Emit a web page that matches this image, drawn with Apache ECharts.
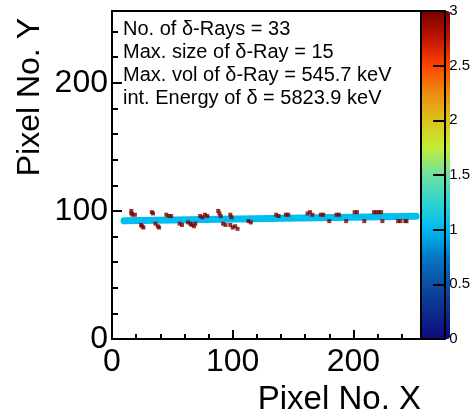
<!DOCTYPE html>
<html>
<head>
<meta charset="utf-8">
<script src="https://cdn.jsdelivr.net/npm/echarts@6/dist/echarts.min.js"></script>
<style>
  html, body { margin: 0; padding: 0; background: #fff; }
  #chart { width: 473px; height: 417px; }
</style>
</head>
<body>
<div id="chart"></div>
<script>
// Pixel hit map of one track: fitted track line plus delta-ray pixels
const FONT = "'Liberation Sans', Arial, sans-serif";

// Track line end points (pixel X, pixel Y)
const trackX = [10, 252];
const trackY = [92.2, 95.8];
const trackColor = '#00bff0';

// Delta-ray pixels
const deltaX = [16, 16, 17, 19, 24, 25, 26, 33, 34, 36, 38, 39, 45, 47, 49, 56, 58, 63, 65,
  66, 68, 69, 73, 75, 77, 79, 88, 89, 90, 92, 94, 98, 99, 98, 100, 102, 104, 113, 115,
  136, 138, 144, 146, 162, 164, 166, 173, 175, 180, 186, 188, 194, 201, 203, 209,
  217, 219, 221, 223, 224, 237, 239, 243, 244];
const deltaY = [100, 98, 97, 97, 89, 88, 87, 99, 98, 90, 88, 87, 97, 96, 96, 90, 89, 91, 90,
  89, 88, 90, 96, 95, 97, 96, 100, 98, 96, 90, 89, 97, 95, 89, 87, 88, 86, 92, 91,
  97, 96, 97, 97, 98, 99, 97, 97, 97, 92, 97, 97, 92, 99, 99, 92,
  99, 99, 99, 99, 92, 92, 92, 92, 92];
const deltaQ = deltaX.map(() => 3);

// Axis ranges and tick steps
const xRange = [0, 256];
const yRange = [0, 256];
const majorStep = 100;
const minorStep = 20;
const zRange = [0, 3];
const zStep = 0.5;

// Statistics box
const infoLines = [
  'No. of \u03b4-Rays = 33',
  'Max. size of \u03b4-Ray = 15',
  'Max. vol of \u03b4-Ray = 545.7 keV',
  'int. Energy of \u03b4 = 5823.9 keV'
];
const xTitle = 'Pixel No. X';
const yTitle = 'Pixel No. Y';

// Rainbow palette for the charge scale
const palette = ['#0b0a7c', '#0c2c8e', '#0b4fa0', '#0478c6', '#00baf0', '#2fd4d0',
  '#6de1a0', '#c4ee38', '#dcc21a', '#ec8c12', '#ff4400', '#c01500', '#780000'];

const chart = echarts.init(document.getElementById('chart'), null, { renderer: 'canvas' });

const deltaData = deltaX.map((x, i) => [x, deltaY[i], deltaQ[i]]);
const trackData = trackX.map((x, i) => [x, trackY[i]]);

const tickLabelStyle = { fontFamily: FONT, fontSize: 32, color: '#000' };

function mainAxis(dim, showLabels, step, tickLen) {
  const range = dim === 'x' ? xRange : yRange;
  return {
    type: 'value', gridIndex: 0, min: range[0], max: range[1], interval: step,
    position: dim === 'x' ? 'bottom' : 'left',
    axisLine: { show: false },
    splitLine: { show: false },
    axisTick: { show: true, inside: true, length: tickLen, lineStyle: { color: '#000', width: 2 } },
    axisLabel: showLabels ? Object.assign({
      show: true, margin: dim === 'x' ? 7 : 4, showMaxLabel: false,
      formatter: v => (v % majorStep === 0 ? String(v) : '')
    }, tickLabelStyle) : { show: false }
  };
}

function barAxis(pos, isY, labels) {
  const a = {
    type: 'value', gridIndex: 1, position: pos, z: 10,
    axisLine: { show: true, onZero: false, lineStyle: { color: '#000', width: 2 } },
    splitLine: { show: false },
    axisTick: { show: false },
    axisLabel: { show: false }
  };
  if (isY) {
    a.min = zRange[0]; a.max = zRange[1]; a.interval = zStep;
  } else {
    a.min = 0; a.max = 1;
  }
  if (labels) {
    a.axisTick = { show: true, inside: true, length: 12, lineStyle: { color: '#000', width: 2 } };
    a.axisLabel = { show: true, margin: 4, fontFamily: FONT, fontSize: 15, color: '#000' };
  }
  return a;
}

const option = {
  animation: false,
  backgroundColor: '#fff',
  grid: [
    { left: 112, top: 11, width: 309, height: 328, show: true, borderColor: '#000', borderWidth: 2, backgroundColor: 'transparent' },
    { left: 421, top: 11, width: 29, height: 328 }
  ],
  xAxis: [
    mainAxis('x', true, minorStep, 5),
    mainAxis('x', false, majorStep, 9),
    barAxis('bottom', false, false),
    barAxis('top', false, false)
  ],
  yAxis: [
    mainAxis('y', true, minorStep, 6),
    mainAxis('y', false, majorStep, 10),
    barAxis('left', true, false),
    barAxis('right', true, true)
  ],
  visualMap: {
    type: 'continuous', min: zRange[0], max: zRange[1], seriesIndex: 1,
    left: 421, top: 11, itemWidth: 29, itemHeight: 328, padding: 0,
    calculable: false, text: null, showLabel: false, hoverLink: false,
    inRange: { color: palette }
  },
  series: [
    {
      type: 'line', xAxisIndex: 0, yAxisIndex: 0, data: trackData,
      symbol: 'none', silent: true,
      lineStyle: { color: trackColor, width: 7, cap: 'round' }, z: 2
    },
    {
      type: 'scatter', xAxisIndex: 0, yAxisIndex: 0, data: deltaData,
      symbol: 'rect', symbolSize: [4, 4], silent: true, z: 3
    }
  ],
  graphic: [
    {
      type: 'text', x: 30, y: 18, rotation: Math.PI / 2,
      style: { text: yTitle, font: '32px ' + FONT, fill: '#000', align: 'right', verticalAlign: 'middle' }
    },
    {
      type: 'text', x: 421, y: 400,
      style: { text: xTitle, font: '33px ' + FONT, fill: '#000', align: 'right', verticalAlign: 'middle' }
    }
  ].concat(infoLines.map((t, i) => ({
    type: 'text', x: 123, y: 29 + i * 23,
    style: { text: t, font: '20px ' + FONT, fill: '#000', align: 'left', verticalAlign: 'middle' }
  })))
};

chart.setOption(option);
</script>
</body>
</html>
